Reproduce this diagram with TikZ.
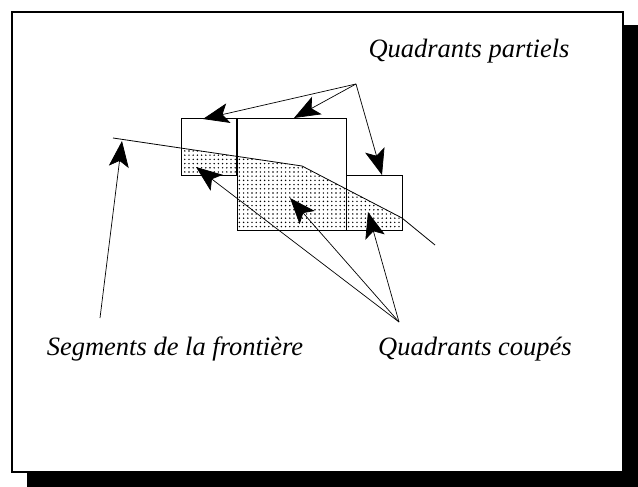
\documentclass[tikz,border=0pt]{standalone}
\usepackage{fontspec}
\setmainfont{Liberation Serif}
\usetikzlibrary{arrows.meta,patterns.meta}
\tikzset{
  label/.style={font=\fontsize{26.5}{30}\selectfont\itshape, inner sep=0pt},
  pointer/.style={-{Stealth[length=26pt,width=20pt,inset=6pt]}, line width=0.7pt},
  quad/.style={draw, line width=1pt},
  cut/.style={pattern={Dots[distance=4.2pt,radius=0.8pt]}}
}
\begin{document}
\begin{tikzpicture}
    [x=1pt,y=-1pt]
    \useasboundingbox (0,0) rectangle (638,487);
    %frame with shadow
    \fill (27,25) rectangle (638,487);
    \draw[fill=white, line width=2pt] (12,12) rectangle (623,472);
    %shaded part of the quadrants
    \begin{scope}
    \clip (181,119) rectangle (236,175) (237,119) rectangle (346,230) (346,175) rectangle (402,230);
    \fill[cut] (113,138) -- (302,166) -- (402,218) -- (440,250) -- (440,260) -- (113,260) -- cycle;
    \end{scope}
    %quadrants
    \draw[quad] (181,119) rectangle (236,175);
    \draw[quad] (237,119) rectangle (346,230);
    \draw[quad] (346,175) rectangle (402,230);
    %boundary segments
    \draw[line width=0.8pt] (113,138) -- (302,166) -- (402,218) -- (435,245);
    %labels
    \node[label] (partiels) at (469,51) {Quadrants partiels};
    \node[label] (segments) at (175,349) {Segments de la frontière};
    \node[label] (coupes) at (475,349) {Quadrants coupés};
    \coordinate (p) at (356,84);
    \coordinate (s) at (100,318);
    \coordinate (c) at (399,322);
    %arrows
    \draw[pointer] (p) -- (203,119);
    \draw[pointer] (p) -- (294,118);
    \draw[pointer] (p) -- (382,175);
    \draw[pointer] (s) -- (122,141);
    \draw[pointer] (c) -- (196,167);
    \draw[pointer] (c) -- (290,198);
    \draw[pointer] (c) -- (368,212);
\end{tikzpicture}
\end{document}
